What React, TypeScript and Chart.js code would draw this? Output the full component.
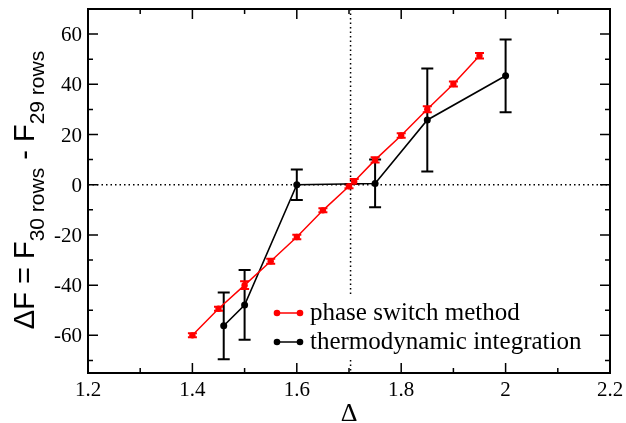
import { useEffect, useRef } from "react";
import { Chart, registerables } from "chart.js";
Chart.register(...registerables);

const seriesLabels = ["phase switch method", "thermodynamic integration"];
const phaseX = [1.4, 1.45, 1.5, 1.55, 1.6, 1.65, 1.7, 1.71, 1.75, 1.8, 1.85, 1.9, 1.95];
const phaseY = [-60, -49.4, -40, -30.5, -20.8, -10.2, -0.6, 1.3, 9.9, 19.6, 30.1, 40.1, 51.4];
const phaseErr = [0.8, 0.8, 1.5, 1.0, 0.9, 0.8, 0.8, 1.0, 1.0, 0.9, 1.2, 1.0, 1.1];
const tiX = [1.46, 1.5, 1.6, 1.75, 1.85, 2.0];
const tiY = [-56.2, -47.9, 0, 0.5, 25.8, 43.4];
const tiErr = [13.3, 13.9, 6.1, 9.5, 20.5, 14.5];

const xTicks = [1.2, 1.4, 1.6, 1.8, 2.0, 2.2];
const xTickLabels = ["1.2", "1.4", "1.6", "1.8", "2", "2.2"];
const xMinor = [1.3, 1.5, 1.7, 1.9, 2.1];
const yTicks = [-60, -40, -20, 0, 20, 40, 60];
const yTickLabels = ["-60", "-40", "-20", "0", "20", "40", "60"];
const yMinor = [-70, -50, -30, -10, 10, 30, 50, 70];
const xRange = [1.2, 2.2];
const yRange = [-75, 70];
const refX = 1.703;
const refY = 0;

const RED = "#ff0000";
const BLACK = "#000000";
const SERIF = "'Liberation Serif', 'DejaVu Serif', serif";
const SANS = "'Liberation Sans', Arial, sans-serif";

const decor = {
  id: "decor",
  beforeDatasetsDraw(chart: any) {
    const { ctx, chartArea: a, scales } = chart;
    const x = scales.x, y = scales.y;
    ctx.save();
    ctx.setLineDash([1.5, 3]);
    ctx.lineWidth = 1.5;
    ctx.strokeStyle = BLACK;
    const vx = x.getPixelForValue(refX);
    const hy = y.getPixelForValue(refY);
    ctx.beginPath();
    ctx.moveTo(vx, a.top);
    ctx.lineTo(vx, a.bottom);
    ctx.moveTo(a.left, hy);
    ctx.lineTo(a.right, hy);
    ctx.stroke();
    ctx.setLineDash([]);
    const drawErr = (xs: number[], ys: number[], es: number[], color: string, cap: number, lw: number) => {
      ctx.strokeStyle = color;
      ctx.lineWidth = lw;
      ctx.beginPath();
      xs.forEach((xv, i) => {
        const px = x.getPixelForValue(xv);
        const top = y.getPixelForValue(ys[i] + es[i]);
        const bot = y.getPixelForValue(ys[i] - es[i]);
        ctx.moveTo(px, top);
        ctx.lineTo(px, bot);
        ctx.moveTo(px - cap, top);
        ctx.lineTo(px + cap, top);
        ctx.moveTo(px - cap, bot);
        ctx.lineTo(px + cap, bot);
      });
      ctx.stroke();
    };
    drawErr(tiX, tiY, tiErr, BLACK, 6, 2);
    drawErr(phaseX, phaseY, phaseErr, RED, 4.5, 2);
    ctx.restore();
  },
  afterDatasetsDraw(chart: any) {
    const { ctx } = chart;
    ctx.save();
    ctx.fillStyle = "#ffffff";
    ctx.fillRect(266, 296, 336, 62);
    const rows = [
      { label: seriesLabels[0], color: RED, ly: 313, by: 319.5 },
      { label: seriesLabels[1], color: BLACK, ly: 342, by: 348.5 },
    ];
    rows.forEach((r) => {
      ctx.strokeStyle = r.color;
      ctx.fillStyle = r.color;
      ctx.lineWidth = 1.5;
      ctx.beginPath();
      ctx.moveTo(277, r.ly);
      ctx.lineTo(300, r.ly);
      ctx.stroke();
      [277, 300].forEach((cx) => {
        ctx.beginPath();
        ctx.arc(cx, r.ly, 3.3, 0, Math.PI * 2);
        ctx.fill();
      });
      ctx.fillStyle = BLACK;
      ctx.font = `25px ${SERIF}`;
      ctx.textBaseline = "alphabetic";
      ctx.textAlign = "left";
      ctx.fillText(r.label, 310, r.by);
    });
    ctx.restore();
  },
  afterDraw(chart: any) {
    const { ctx, chartArea: a, scales } = chart;
    const x = scales.x, y = scales.y;
    ctx.save();
    ctx.strokeStyle = BLACK;
    ctx.lineWidth = 2;
    ctx.strokeRect(a.left, a.top, a.right - a.left, a.bottom - a.top);
    ctx.lineWidth = 1.5;
    ctx.beginPath();
    const xt = (vals: number[], len: number) =>
      vals.forEach((v) => {
        const px = x.getPixelForValue(v);
        ctx.moveTo(px, a.bottom);
        ctx.lineTo(px, a.bottom - len);
        ctx.moveTo(px, a.top);
        ctx.lineTo(px, a.top + len);
      });
    const yt = (vals: number[], len: number) =>
      vals.forEach((v) => {
        const py = y.getPixelForValue(v);
        ctx.moveTo(a.left, py);
        ctx.lineTo(a.left + len, py);
        ctx.moveTo(a.right, py);
        ctx.lineTo(a.right - len, py);
      });
    xt(xTicks, 10);
    xt(xMinor, 5);
    yt(yTicks, 10);
    yt(yMinor, 5);
    ctx.stroke();

    // tick labels (serif)
    ctx.fillStyle = BLACK;
    ctx.font = `21px ${SERIF}`;
    ctx.textBaseline = "alphabetic";
    ctx.textAlign = "center";
    xTicks.forEach((v, i) => {
      ctx.fillText(xTickLabels[i], x.getPixelForValue(v), a.bottom + 23);
    });
    ctx.textAlign = "right";
    yTicks.forEach((v, i) => {
      ctx.fillText(yTickLabels[i], a.left - 6, y.getPixelForValue(v) + 7);
    });

    // x title
    ctx.font = `26px ${SERIF}`;
    ctx.textAlign = "center";
    ctx.fillText("Δ", (a.left + a.right) / 2, 420.5);

    // y title with subscripts
    const parts = [
      { t: "ΔF = F", big: true },
      { t: "30 rows", big: false },
      { t: " - F", big: true },
      { t: "29 rows", big: false },
    ];
    const bigFont = `29px ${SANS}`;
    const subFont = `21px ${SANS}`;
    let total = 0;
    const widths = parts.map((p) => {
      ctx.font = p.big ? bigFont : subFont;
      const w = ctx.measureText(p.t).width;
      total += w;
      return w;
    });
    ctx.translate(34, 190);
    ctx.rotate(-Math.PI / 2);
    ctx.textAlign = "left";
    let cx = -total / 2;
    parts.forEach((p, i) => {
      ctx.font = p.big ? bigFont : subFont;
      ctx.fillText(p.t, cx, p.big ? 0 : 10);
      cx += widths[i];
    });
    ctx.restore();
  },
};

export default function App() {
  const ref = useRef<HTMLCanvasElement | null>(null);
  useEffect(() => {
    document.body.style.margin = "0";
    if (!ref.current) return;
    const chart = new Chart(ref.current, {
      type: "scatter",
      data: {
        datasets: [
          {
            label: seriesLabels[0],
            data: phaseX.map((v, i) => ({ x: v, y: phaseY[i] })),
            borderColor: RED,
            backgroundColor: RED,
            borderWidth: 1.5,
            pointRadius: 3.2,
            pointBorderWidth: 0,
            showLine: true,
          },
          {
            label: seriesLabels[1],
            data: tiX.map((v, i) => ({ x: v, y: tiY[i] })),
            borderColor: BLACK,
            backgroundColor: BLACK,
            borderWidth: 1.6,
            pointRadius: 3.5,
            pointBorderWidth: 0,
            showLine: true,
          },
        ],
      },
      options: {
        animation: false,
        responsive: false,
        layout: { padding: { top: 9, right: 16, left: 0, bottom: 0 } },
        plugins: { legend: { display: false }, tooltip: { enabled: false } },
        scales: {
          x: {
            type: "linear",
            min: xRange[0],
            max: xRange[1],
            afterBuildTicks: (s: any) => {
              s.ticks = xTicks.map((v) => ({ value: v }));
            },
            afterFit: (s: any) => {
              s.height = 50;
              s.paddingLeft = 0;
              s.paddingRight = 0;
            },
            ticks: { display: false },
            grid: { display: false, drawTicks: false },
            border: { display: false },
          },
          y: {
            type: "linear",
            min: yRange[0],
            max: yRange[1],
            afterBuildTicks: (s: any) => {
              s.ticks = yTicks.map((v) => ({ value: v }));
            },
            afterFit: (s: any) => {
              s.width = 88;
              s.paddingTop = 0;
              s.paddingBottom = 0;
            },
            ticks: { display: false },
            grid: { display: false, drawTicks: false },
            border: { display: false },
          },
        },
      },
      plugins: [decor],
    });
    return () => chart.destroy();
  }, []);
  return (
    <div style={{ width: 626, height: 423 }}>
      <canvas ref={ref} width={626} height={423} />
    </div>
  );
}
